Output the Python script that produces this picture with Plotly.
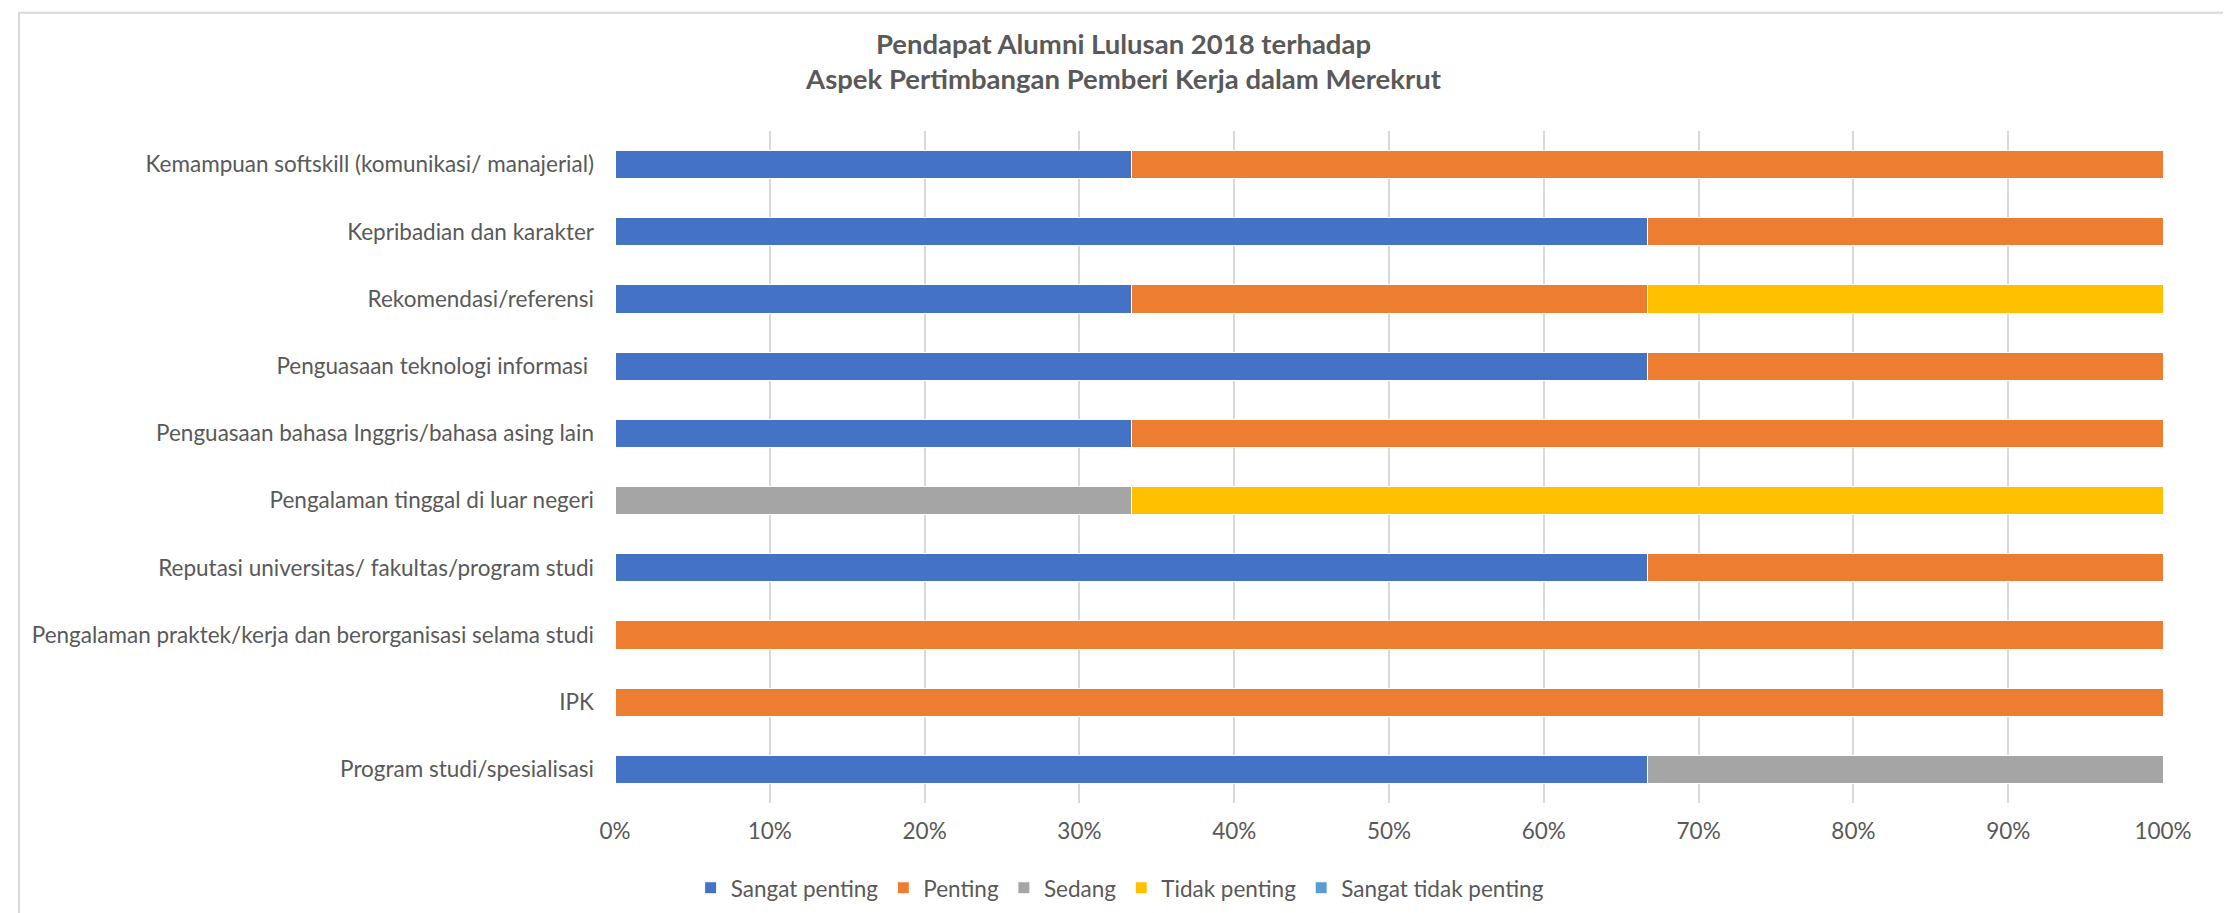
import plotly.graph_objects as go

# aspects, listed top to bottom as in the chart
categories = [
    "Kemampuan softskill (komunikasi/ manajerial)",
    "Kepribadian dan karakter",
    "Rekomendasi/referensi",
    "Penguasaan teknologi informasi ",
    "Penguasaan bahasa Inggris/bahasa asing lain",
    "Pengalaman tinggal di luar negeri",
    "Reputasi universitas/ fakultas/program studi",
    "Pengalaman praktek/kerja dan berorganisasi selama studi",
    "IPK",
    "Program studi/spesialisasi",
]

# number of respondents per answer (3 alumni)
sangat_penting = [1, 2, 1, 2, 1, 0, 2, 0, 0, 2]
penting = [2, 1, 1, 1, 2, 0, 1, 3, 3, 0]
sedang = [0, 0, 0, 0, 0, 1, 0, 0, 0, 1]
tidak_penting = [0, 0, 1, 0, 0, 2, 0, 0, 0, 0]
sangat_tidak_penting = [0, 0, 0, 0, 0, 0, 0, 0, 0, 0]

series = [
    ("Sangat penting", sangat_penting, "#4472C4"),
    ("Penting", penting, "#ED7D31"),
    ("Sedang", sedang, "#A5A5A5"),
    ("Tidak penting", tidak_penting, "#FFC000"),
    ("Sangat tidak penting", sangat_tidak_penting, "#5B9BD5"),
]

FONT = "Lato"
TXT = "#595959"

fig = go.Figure()
for name, vals, color in series:
    fig.add_trace(go.Bar(
        y=categories,
        x=vals,
        name=name,
        orientation="h",
        marker=dict(color=color, line=dict(color="white", width=1)),
    ))

fig.update_layout(
    barmode="stack",
    barnorm="percent",
    bargap=0.58,
    width=2231,
    height=913,
    margin=dict(l=607, r=76, t=123, b=117),
    paper_bgcolor="white",
    plot_bgcolor="white",
    font=dict(family=FONT, size=22.5, color=TXT),
    title=dict(
        text="<b>Pendapat Alumni Lulusan 2018 terhadap<br>Aspek Pertimbangan Pemberi Kerja dalam Merekrut</b>",
        x=0.5, xanchor="center",
        y=0.95, yanchor="middle",
        font=dict(family=FONT, size=27.5, color=TXT),
    ),
    legend=dict(
        orientation="h",
        x=0.326, xanchor="center",
        y=-0.125, yanchor="middle",
        font=dict(size=22.5, color=TXT),
        traceorder="normal",
        itemwidth=30,
    ),
    xaxis=dict(
        range=[0, 100],
        tick0=0, dtick=10,
        ticksuffix="%",
        showgrid=True,
        gridcolor="#D9D9D9",
        gridwidth=2,
        zeroline=False,
        showline=False,
        ticks="",
        ticklabelstandoff=12,
        fixedrange=True,
    ),
    yaxis=dict(
        autorange="reversed",
        showgrid=False,
        showline=False,
        ticks="",
        ticklabelstandoff=20,
        fixedrange=True,
    ),
)

# light frame around the whole chart
fig.add_shape(
    type="rect", xref="paper", yref="paper",
    x0=-0.385, x1=1.0407, y0=-0.2, y1=1.176,
    line=dict(color="#D9D9D9", width=2),
    fillcolor="rgba(0,0,0,0)",
    layer="below",
)

fig.write_html("out.html")
